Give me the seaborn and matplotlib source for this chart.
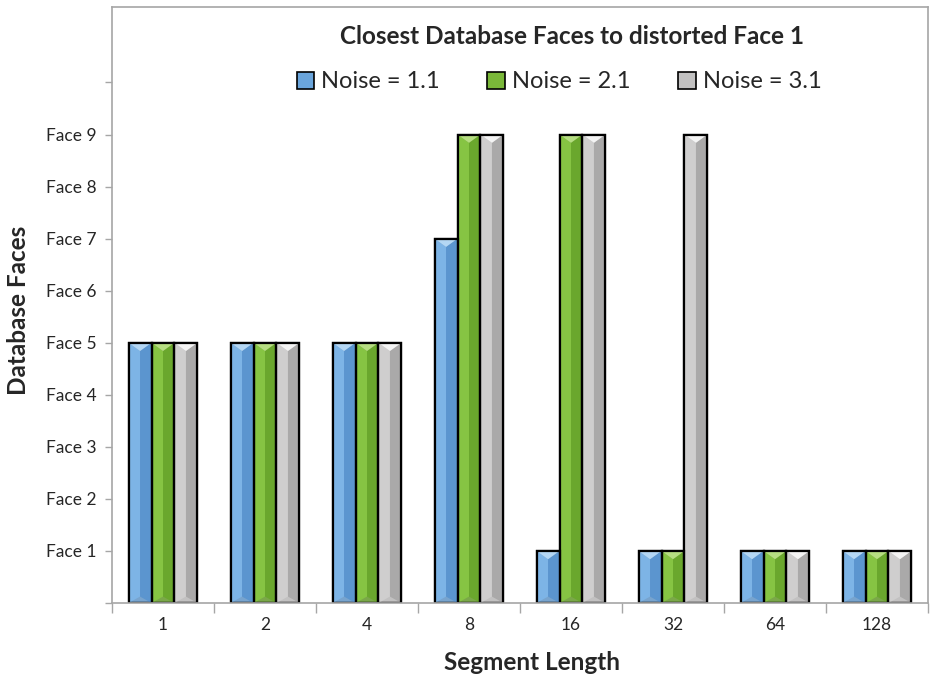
import matplotlib
matplotlib.use("Agg")
import matplotlib.pyplot as plt
from matplotlib.patches import Polygon, Patch
import seaborn as sns
import pandas as pd

# Segment lengths and closest matching database face for each noise level
segments = ["1", "2", "4", "8", "16", "32", "64", "128"]
noise_levels = ["Noise = 1.1", "Noise = 2.1", "Noise = 3.1"]
noise_1_1 = [5, 5, 5, 7, 1, 1, 1, 1]
noise_2_1 = [5, 5, 5, 9, 9, 1, 1, 1]
noise_3_1 = [5, 5, 5, 9, 9, 9, 1, 1]
y_ticks = list(range(0, 11))
y_tick_labels = [""] + [f"Face {i}" for i in range(1, 10)] + [""]

title = "Closest Database Faces to distorted Face 1"
x_label = "Segment Length"
y_label = "Database Faces"

# Base, light (left face), dark (right face) and top-bevel shades per series
base_colors = ["#6aa5dc", "#7ab839", "#c2c1c1"]
light_colors = ["#7db4e6", "#86c443", "#cfcece"]
dark_colors = ["#5b95cf", "#6aa72d", "#aaa9a9"]
top_colors = ["#b4d7f4", "#b6de82", "#f4f4f4"]

df = pd.DataFrame({
    "segment": segments * 3,
    "noise": [noise_levels[0]] * 8 + [noise_levels[1]] * 8 + [noise_levels[2]] * 8,
    "face": noise_1_1 + noise_2_1 + noise_3_1,
})

sns.set_theme(style="white")
plt.rcParams["font.family"] = ["Lato", "DejaVu Sans"]

W, H = 930, 681
fig = plt.figure(figsize=(W / 100, H / 100), dpi=100)
ax = fig.add_axes([112 / W, (H - 603) / H, (928 - 112) / W, (603 - 7) / H])

sns.barplot(data=df, x="segment", y="face", hue="noise", order=segments,
            hue_order=noise_levels, palette=base_colors, width=0.675, gap=0,
            edgecolor="black", linewidth=1.6, legend=False, ax=ax, zorder=2)

ax.set_xlim(-0.5, len(segments) - 0.5)
ax.set_ylim(0, 11.45)

# Bevelled shading on each bar: light left half, dark right half, pale top triangle
fig.canvas.draw()
px_per_unit = ax.transData.transform((0, 1))[1] - ax.transData.transform((0, 0))[1]
px_per_x = ax.transData.transform((1, 0))[0] - ax.transData.transform((0, 0))[0]
bars = [p for p in ax.patches]
for i, bar in enumerate(bars):
    s = i // len(segments)
    x0, w, h = bar.get_x(), bar.get_width(), bar.get_height()
    if h <= 0:
        continue
    tri_h = (w * px_per_x * 0.36) / px_per_unit
    bot_h = (w * px_per_x * 0.28) / px_per_unit
    xm = x0 + w * 0.5
    ax.add_patch(Polygon([(x0, 0), (xm, bot_h), (xm, h - tri_h), (x0, h)],
                         closed=True, facecolor=light_colors[s], edgecolor="none", zorder=2.1))
    ax.add_patch(Polygon([(xm, bot_h), (x0 + w, 0), (x0 + w, h), (xm, h - tri_h)],
                         closed=True, facecolor=dark_colors[s], edgecolor="none", zorder=2.1))
    ax.add_patch(Polygon([(x0, h), (x0 + w, h), (xm, h - tri_h)],
                         closed=True, facecolor=top_colors[s], edgecolor="none", zorder=2.2))
    ax.add_patch(Polygon([(x0, 0), (x0 + w, 0), (x0 + w, h), (x0, h)], closed=True,
                         facecolor="none", edgecolor="black", linewidth=1.6, zorder=2.3))

# Axes frame and ticks
for side in ["left", "right", "top", "bottom"]:
    ax.spines[side].set_visible(True)
    ax.spines[side].set_color("#a6a6a6")
    ax.spines[side].set_linewidth(1.2)

ax.set_yticks(y_ticks)
ax.set_yticklabels(y_tick_labels)
ax.tick_params(axis="y", which="major", direction="out", length=5, width=1,
               color="#a6a6a6", labelsize=12.5, pad=6, left=True)
ax.set_xticks(range(len(segments)))
ax.set_xticklabels(segments)
ax.set_xticks([i - 0.5 for i in range(len(segments) + 1)], minor=True)
ax.tick_params(axis="x", which="major", length=0, labelsize=12.5, pad=10)
ax.tick_params(axis="x", which="minor", direction="out", length=7, width=1,
               color="#a6a6a6", bottom=True)
ax.set_xlabel("")
ax.set_ylabel("")

fig.text(18 / W, 1 - 310 / H, y_label, rotation=90, ha="center", va="center",
         fontsize=17.5, fontweight="bold")
fig.text(532 / W, 1 - 663 / H, x_label, ha="center", va="center",
         fontsize=17.5, fontweight="bold")
fig.text(572 / W, 1 - 37 / H, title, ha="center", va="center",
         fontsize=17.5, fontweight="bold")

handles = [Patch(facecolor=c, edgecolor="black", linewidth=1.2) for c in base_colors]
leg = fig.legend(handles, noise_levels, loc="center", bbox_to_anchor=(559 / W, 1 - 82 / H),
                 ncol=3, frameon=False, fontsize=17, handlelength=0.75, handleheight=0.75,
                 handletextpad=0.3, columnspacing=2.0)

fig.savefig("out.png", dpi=100)
